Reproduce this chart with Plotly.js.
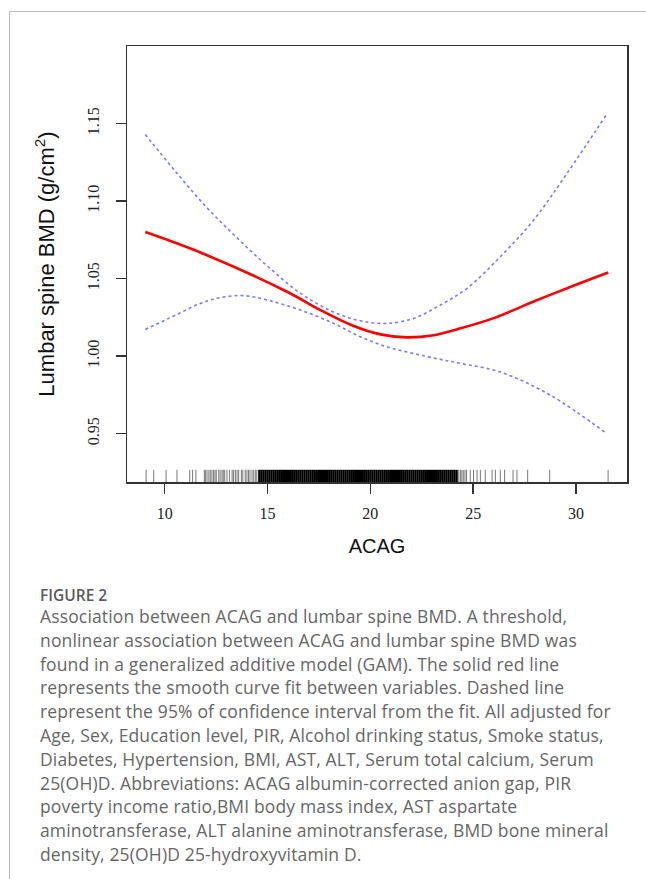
<!DOCTYPE html>
<html>
<head>
<meta charset="utf-8">
<script src="https://cdn.plot.ly/plotly-3.0.1.min.js"></script>
<style>
  html, body { margin:0; padding:0; width:646px; height:879px; overflow:hidden; background:#fff; }
  #frame { position:absolute; left:9px; top:11px; width:700px; height:900px; border-left:1px solid #bbb; border-top:1px solid #bbb; pointer-events:none; z-index:5; }
  #plot { position:absolute; left:0; top:0; width:646px; height:570px; }
  #cap { position:absolute; left:40px; top:585px; font-family:'Open Sans','Noto Sans',sans-serif; font-size:17.5px; letter-spacing:0.15px; line-height:23.8px; color:#666; white-space:nowrap; }
  #cap .fig { font-weight:600; font-size:15.5px; letter-spacing:0; color:#5a5a5a; line-height:20px; margin-bottom:0px; }
</style>
</head>
<body>
<div id="frame"></div>
<div id="plot"></div>
<div id="cap">
  <div class="fig">FIGURE 2</div>
  Association between ACAG and lumbar spine BMD. A threshold,<br>
  nonlinear association between ACAG and lumbar spine BMD was<br>
  found in a generalized additive model (GAM). The solid red line<br>
  represents the smooth curve fit between variables. Dashed line<br>
  represent the 95% of confidence interval from the fit. All adjusted for<br>
  Age, Sex, Education level, PIR, Alcohol drinking status, Smoke status,<br>
  Diabetes, Hypertension, BMI, AST, ALT, Serum total calcium, Serum<br>
  25(OH)D. Abbreviations: ACAG albumin-corrected anion gap, PIR<br>
  poverty income ratio,BMI body mass index, AST aspartate<br>
  aminotransferase, ALT alanine aminotransferase, BMD bone mineral<br>
  density, 25(OH)D 25-hydroxyvitamin D.
</div>
<script>
// ---- data ----
const fitX   = [9.06, 11.74, 15.95, 17.57, 19.19, 20.49, 21.78, 23.08, 24.38, 26.0, 28.0, 30.0, 31.57];
const fitY   = [1.080, 1.0668, 1.0415, 1.0297, 1.0194, 1.0140, 1.0121, 1.0135, 1.0179, 1.0245, 1.0355, 1.0460, 1.0539];

const upperX = [9.06, 10.5, 12.0, 13.5, 15.0, 16.6, 18.2, 19.5, 20.8, 22.1, 23.4, 24.7, 26.32, 27.94, 29.56, 31.50];
const upperY = [1.1429, 1.1195, 1.0965, 1.0765, 1.0580, 1.0405, 1.0285, 1.0228, 1.0211, 1.0243, 1.0329, 1.0437, 1.0641, 1.0877, 1.1178, 1.1561];

const lowerX = [9.06, 10.5, 11.74, 12.72, 13.84, 14.98, 16.60, 18.22, 19.51, 20.81, 22.10, 23.40, 24.38, 26.32, 28.75, 31.50];
const lowerY = [1.0172, 1.0262, 1.0340, 1.0378, 1.0390, 1.0362, 1.0297, 1.0211, 1.0125, 1.0060, 1.0017, 0.9979, 0.9953, 0.9897, 0.9748, 0.9500];

// rug: observed ACAG values (sparse tails and intermediate density)
const rugSparse = [9.10, 9.47, 10.07, 10.60, 11.22, 11.36, 11.52, 11.93, 11.98, 12.06, 12.15, 12.22, 12.30, 12.38, 12.45,
  12.51, 12.63, 12.70, 12.79, 12.85, 12.92, 13.03, 13.15, 13.28, 13.35, 13.44, 13.52, 13.60, 13.73, 13.80, 13.92, 14.00,
  14.08, 14.15, 14.25, 14.33, 14.41, 14.48,
  24.30, 24.38, 24.45, 24.52, 24.60, 24.68,
  24.86, 25.02, 25.19, 25.35, 25.59, 25.92, 26.08, 26.32, 26.53, 26.94, 27.13, 27.65, 28.72, 31.56];
// rug: dense core of the distribution
const rugDense = [14.6, 14.7, 14.8, 14.9, 15.0, 15.1, 15.2, 15.3, 15.4, 15.5, 15.6, 15.7, 15.8, 15.9,
  16.0, 16.1, 16.2, 16.3, 16.4, 16.5, 16.6, 16.7, 16.8, 16.9, 17.0, 17.1, 17.2, 17.3, 17.4, 17.5, 17.6, 17.7, 17.8, 17.9,
  18.0, 18.1, 18.2, 18.3, 18.4, 18.5, 18.6, 18.7, 18.8, 18.9, 19.0, 19.1, 19.2, 19.3, 19.4, 19.5, 19.6, 19.7, 19.8, 19.9,
  20.0, 20.1, 20.2, 20.3, 20.4, 20.5, 20.6, 20.7, 20.8, 20.9, 21.0, 21.1, 21.2, 21.3, 21.4, 21.5, 21.6, 21.7, 21.8, 21.9,
  22.0, 22.1, 22.2, 22.3, 22.4, 22.5, 22.6, 22.7, 22.8, 22.9, 23.0, 23.1, 23.2, 23.3, 23.4, 23.5, 23.6, 23.7, 23.8,
  23.9, 24.0, 24.1, 24.2];

const xTicks = [10, 15, 20, 25, 30];
const xTickText = ['10', '15', '20', '25', '30'];
const yTicks = [0.95, 1.00, 1.05, 1.10, 1.15];
const yTickText = ['0.95', '1.00', '1.05', '1.10', '1.15'];

const xRange = [8.17, 32.48];
const yRange = [0.9188, 1.2];

// ---- build rug segments ----
const RUG_H = 0.028;
function rugTrace(vals, color, width) {
  const xs = [], ys = [];
  vals.forEach(v => { xs.push(v, v, null); ys.push(0, RUG_H, null); });
  return { x: xs, y: ys, yaxis: 'y2', mode: 'lines', line: { color: color, width: width },
           hoverinfo: 'skip', showlegend: false, cliponaxis: false };
}

const traces = [
  rugTrace(rugSparse, '#777', 1),
  rugTrace(rugDense, '#000', 2.2),
  { x: upperX, y: upperY, mode: 'lines', line: { color: 'rgb(120,120,255)', width: 1.6, dash: 'dot', shape: 'spline', smoothing: 1 }, showlegend: false },
  { x: lowerX, y: lowerY, mode: 'lines', line: { color: 'rgb(120,120,255)', width: 1.6, dash: 'dot', shape: 'spline', smoothing: 1 }, showlegend: false },
  { x: fitX, y: fitY, mode: 'lines', line: { color: '#ff0000', width: 2.6, shape: 'spline', smoothing: 1 }, showlegend: false }
];

const tickFont = { family: 'Liberation Serif, DejaVu Serif, serif', size: 16, color: '#222' };
const layout = {
  width: 646, height: 570,
  margin: { l: 127, r: 19, t: 46, b: 88 },
  paper_bgcolor: 'rgba(0,0,0,0)', plot_bgcolor: '#fff',
  xaxis: {
    range: xRange, tickmode: 'array', tickvals: xTicks, ticktext: xTickText,
    ticks: 'outside', ticklen: 10, tickwidth: 1.5, tickcolor: '#333',
    showline: true, mirror: true, linecolor: '#333', linewidth: 1.5,
    showgrid: false, zeroline: false, tickfont: tickFont, ticklabelstandoff: 6,
    title: { text: 'ACAG', font: { family: 'Liberation Sans, Arial, sans-serif', size: 20, color: '#111' }, standoff: 18 }
  },
  yaxis: {
    range: yRange, tickmode: 'array', tickvals: yTicks, ticktext: yTickText, tickangle: -90,
    ticks: 'outside', ticklen: 10, tickwidth: 1.5, tickcolor: '#333',
    showline: true, mirror: true, linecolor: '#333', linewidth: 1.5,
    showgrid: false, zeroline: false, tickfont: tickFont, ticklabelstandoff: 10,
    title: { text: 'Lumbar spine BMD (g/cm<sup>2</sup>)', font: { family: 'Liberation Sans, Arial, sans-serif', size: 22, color: '#111' }, standoff: 24 }
  },
  yaxis2: { overlaying: 'y', range: [0, 1], visible: false, fixedrange: true },
  showlegend: false
};

Plotly.newPlot('plot', traces, layout, { displayModeBar: false, staticPlot: true });
</script>
</body>
</html>
